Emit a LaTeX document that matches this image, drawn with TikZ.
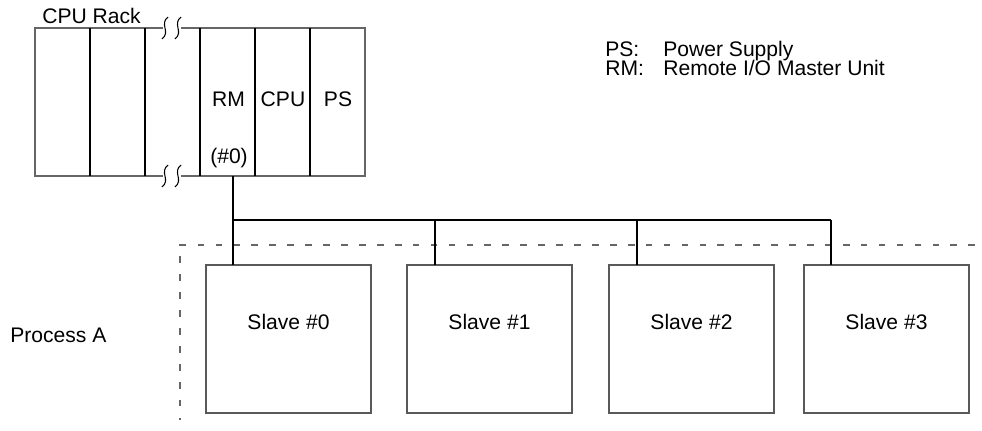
\documentclass[tikz,border=0pt]{standalone}
\usepackage{fontspec}
\setmainfont{Liberation Sans}
\usepackage{xcolor}
\usepackage{tikz}
\usetikzlibrary{positioning, calc}

\tikzset{
    txt/.style={inner sep=0pt, font=\fontsize{12}{14}\selectfont},
    slavebox/.style={draw=black!65, line width=0.8pt, minimum width=3.3cm,
        minimum height=2.96cm, inner sep=0pt, outer sep=0pt, anchor=north west},
    bus/.style={draw=black, line width=0.6pt},
    zone/.style={draw=black!60, line width=0.6pt, dash pattern=on 3.8pt off 6.4pt},
    rackline/.style={draw=black!60, line width=0.6pt},
    slotline/.style={draw=black, line width=1.1pt},
}

\begin{document}
\begin{tikzpicture}[x=0.02cm, y=-0.02cm]
    \useasboundingbox (0,0) rectangle (982,431);

    % Rack outline, broken between the 3rd and 4th slot
    \draw[rackline] (163,28) -- (35,28) -- (35,176) -- (163,176);
    \draw[rackline] (181,28) -- (365,28) -- (365,176) -- (181,176);
    \foreach \x in {90,145,200,255,310} {
        \draw[slotline] (\x,28) -- (\x,176);
    }
    % Break marks
    \foreach \x in {165,178} {
        \foreach \y in {28,176} {
            \draw[line width=0.6pt] (\x+3,\y-11) .. controls (\x-6,\y-4) and (\x+6,\y+4) .. (\x-3,\y+11);
        }
    }

    % Rack labels
    \node[txt, anchor=base west] (racktitle) at (42,24) {CPU Rack};
    \node[txt, anchor=base] (rm) at (228.5,107) {RM};
    \node[txt, anchor=base] (rmno) at (229,164) {(\#0)};
    \node[txt, anchor=base] (cpu) at (283,107) {CPU};
    \node[txt, anchor=base] (ps) at (338,107) {PS};
    \coordinate (rmport) at (233,176);

    % Legend
    \node[txt, anchor=base west] (keyps) at (605,57) {PS:};
    \node[txt, anchor=base west] (keypstext) at (663,57) {Power Supply};
    \node[txt, anchor=base west] (keyrm) at (605,76) {RM:};
    \node[txt, anchor=base west] (keyrmtext) at (663,76) {Remote I/O Master Unit};

    % Process area
    \draw[zone] (975,245) -- (180,245) -- (180,420);
    \node[txt, anchor=base west] (process) at (10,343) {Process A};

    % Slaves
    \foreach \i/\x in {0/206,1/407,2/609,3/804} {
        \node[slavebox] (s\i) at (\x,265) {};
        \node[txt, anchor=base] (s\i text) at ($(s\i.north)+(0,65)$) {Slave \#\i};
    }

    % Remote I/O bus
    \coordinate (busend) at (831,220);
    \draw[bus] (rmport) -- (s0.north -| rmport);
    \draw[bus] (rmport |- busend) -- (busend);
    \foreach \i/\x in {1/435,2/637,3/831} {
        \draw[bus] (\x,220) -- (s\i.north -| {\x,220});
    }
\end{tikzpicture}
\end{document}
